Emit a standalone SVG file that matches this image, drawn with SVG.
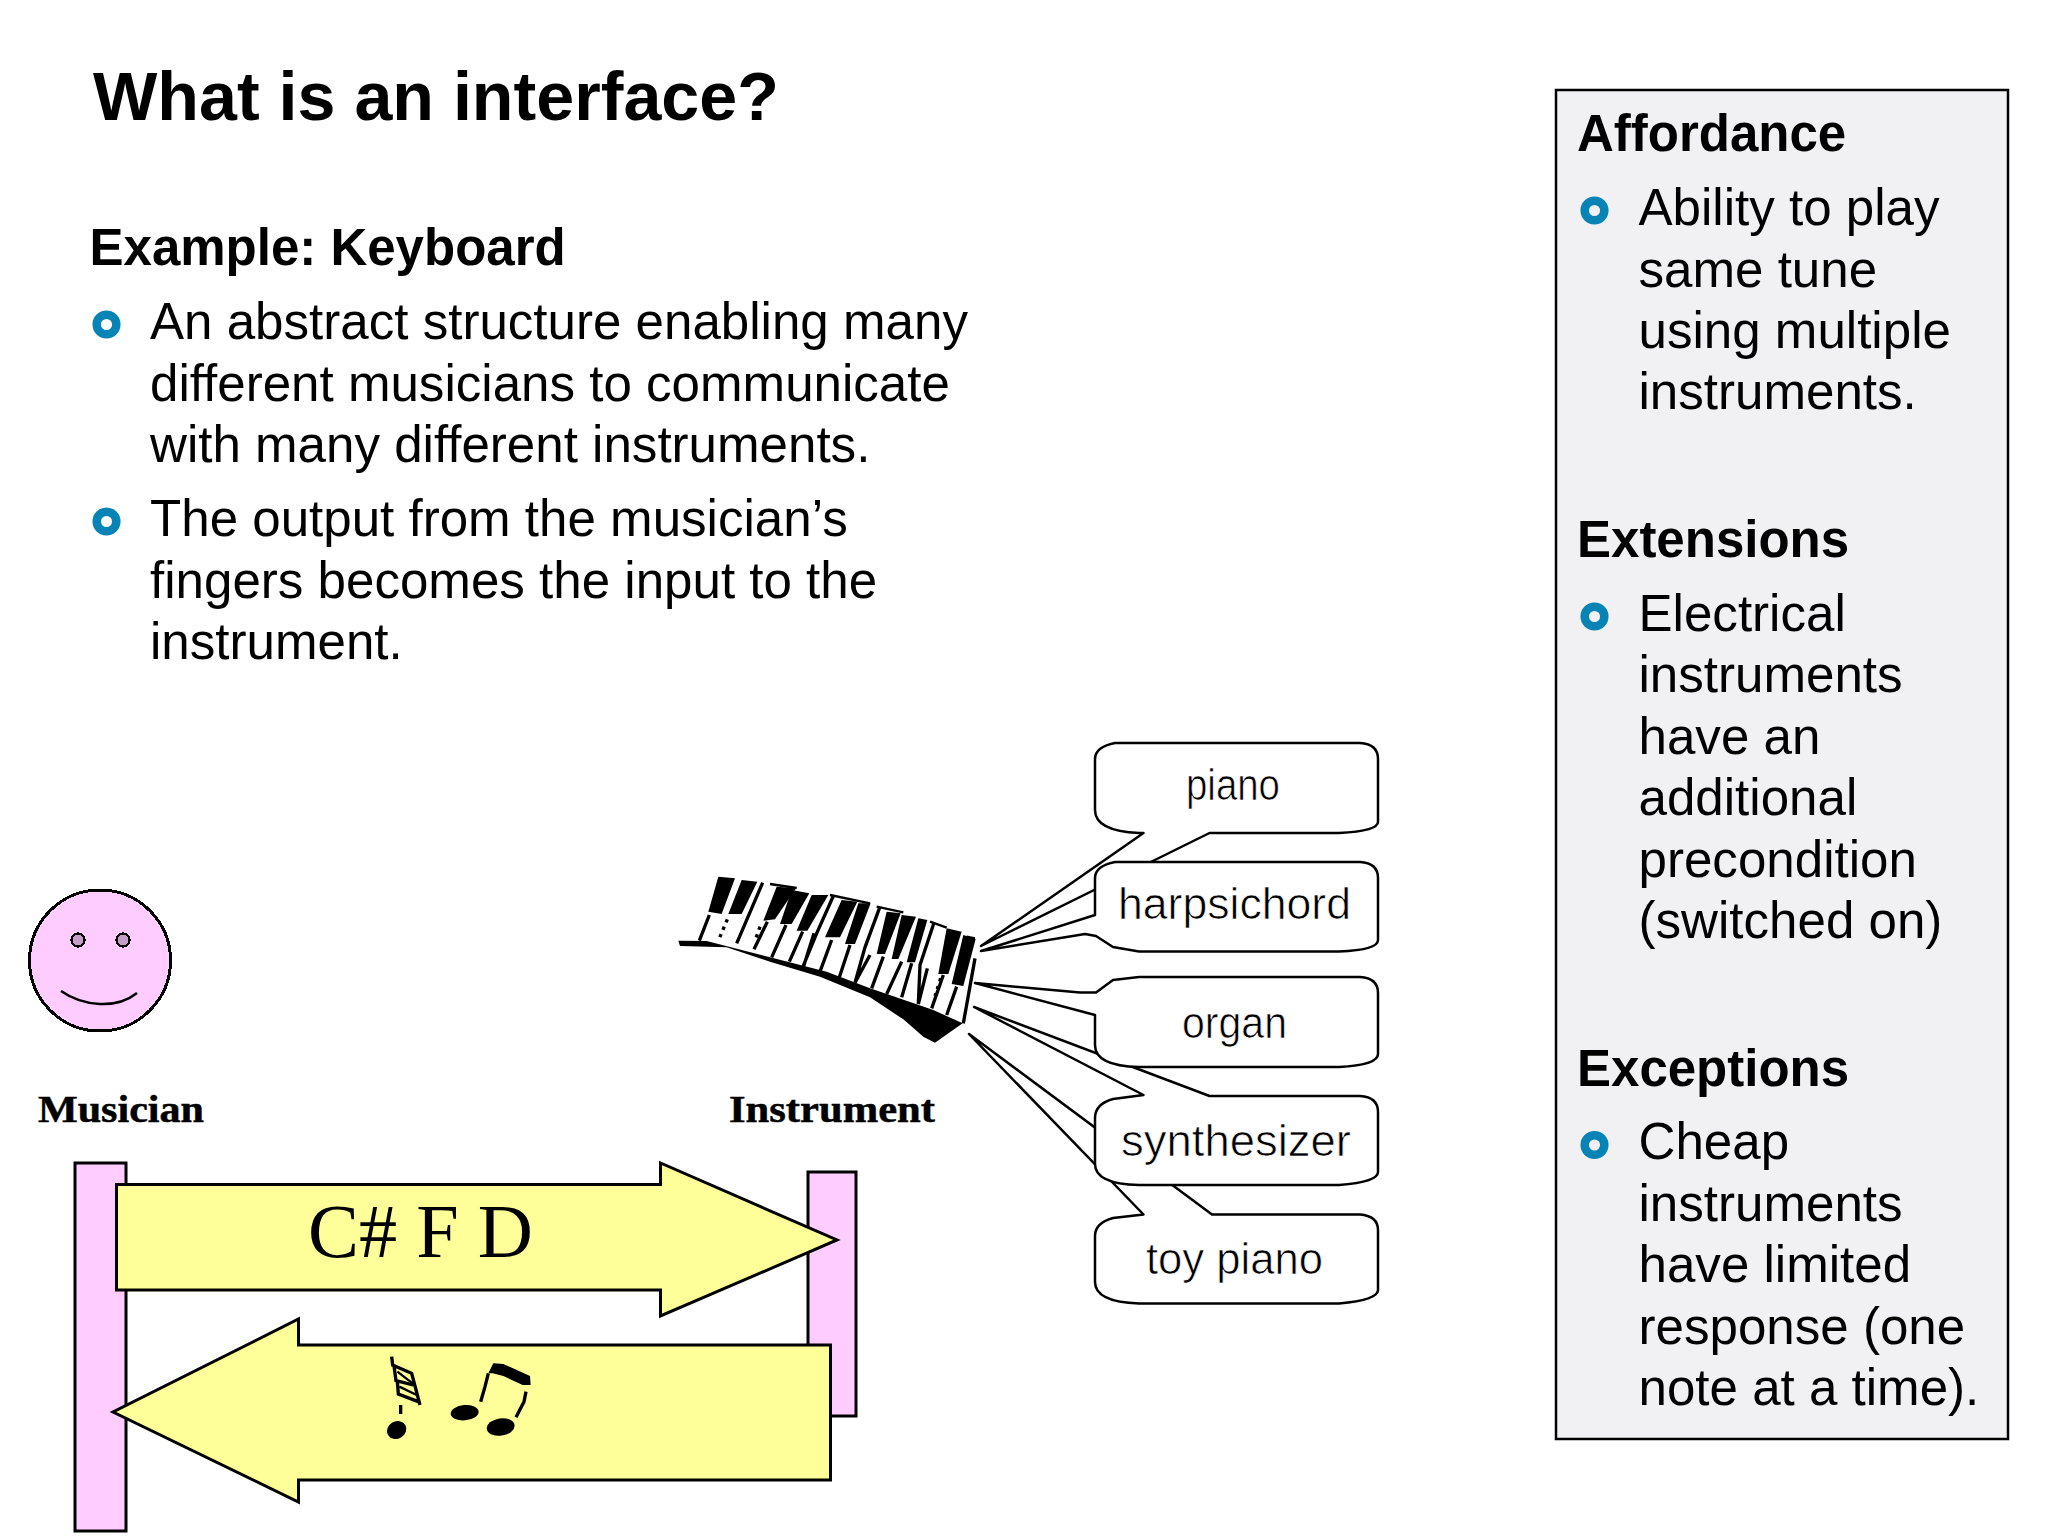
<svg xmlns="http://www.w3.org/2000/svg" xmlns:xlink="http://www.w3.org/1999/xlink" width="2048" height="1536" viewBox="0 0 2048 1536">
<style>
text{font-family:"Liberation Sans",Arial,sans-serif;fill:#000}
.title{font-size:68.200px;font-weight:700}
.head{font-size:51px;font-weight:700}
.body{font-size:51.100px}
.pix{font-family:"Liberation Serif","Times New Roman",serif;font-size:38px;font-weight:700;stroke:#000;stroke-width:.5px}
.call{font-size:44px;stroke:#fff;stroke-width:.7px}
.pink{fill:#ffccff;stroke:#000;stroke-width:3}
.jag{shape-rendering:crispEdges}
.yellow{fill:#ffff99;stroke:#000;stroke-width:3}
.bubble{fill:#fff;stroke:#000;stroke-width:2.500;stroke-linejoin:round}
.ring{fill:none;stroke:#0784b5;stroke-width:8.500}
</style>
<defs><circle id="bullet" r="9.800" class="ring"/></defs>
<rect width="2048" height="1536" fill="#fff"/>
<g id="title"><text class="title" x="93" y="119.500">What is an interface?</text></g>
<g id="example">
<text class="head" x="89.500" y="265">Example: Keyboard</text>
<use xlink:href="#bullet" href="#bullet" x="106.500" y="324.500"/>
<text class="body" x="150" y="339">An abstract structure enabling many</text>
<text class="body" x="150" y="400.500">different musicians to communicate</text>
<text class="body" x="150" y="462">with many different instruments.</text>
<use xlink:href="#bullet" href="#bullet" x="106.500" y="521.500"/>
<text class="body" x="150" y="536">The output from the musician’s</text>
<text class="body" x="150" y="597.500">fingers becomes the input to the</text>
<text class="body" x="150" y="659">instrument.</text>
</g>
<g id="sidebar">
<rect x="1556" y="90" width="452" height="1349" fill="#f1f1f3" stroke="#000" stroke-width="2.500"/>
<text class="head" x="1577" y="151">Affordance</text>
<use xlink:href="#bullet" href="#bullet" x="1594.500" y="210.500"/>
<text class="body" x="1638.500" y="225">Ability to play</text>
<text class="body" x="1638.500" y="286.500">same tune</text>
<text class="body" x="1638.500" y="348">using multiple</text>
<text class="body" x="1638.500" y="409">instruments.</text>
<text class="head" x="1577" y="556.500">Extensions</text>
<use xlink:href="#bullet" href="#bullet" x="1594.500" y="616.500"/>
<text class="body" x="1638.500" y="630.500">Electrical</text>
<text class="body" x="1638.500" y="692">instruments</text>
<text class="body" x="1638.500" y="753.500">have an</text>
<text class="body" x="1638.500" y="815">additional</text>
<text class="body" x="1638.500" y="876.500">precondition</text>
<text class="body" x="1638.500" y="938">(switched on)</text>
<text class="head" x="1577" y="1085.500">Exceptions</text>
<use xlink:href="#bullet" href="#bullet" x="1594.500" y="1145"/>
<text class="body" x="1638.500" y="1159">Cheap</text>
<text class="body" x="1638.500" y="1220.500">instruments</text>
<text class="body" x="1638.500" y="1282">have limited</text>
<text class="body" x="1638.500" y="1343.500">response (one</text>
<text class="body" x="1638.500" y="1405">note at a time).</text>
</g>
<g id="musician">
<ellipse cx="100" cy="960.500" rx="70.500" ry="70.500" class="pink jag" stroke-width="2.500"/>
<circle cx="78" cy="940" r="6.500" fill="#c79cc7" stroke="#000" stroke-width="2.500" class="jag"/>
<circle cx="123" cy="940" r="6.500" fill="#c79cc7" stroke="#000" stroke-width="2.500" class="jag"/>
<path d="M61 991Q78 1003 100 1004T137 993" fill="none" stroke="#000" stroke-width="2.500"/>
<text class="pix" x="38" y="1122" textLength="166" lengthAdjust="spacingAndGlyphs">Musician</text>
</g>
<g id="musician-bar"><rect x="75" y="1163" width="51" height="368" class="pink"/></g>
<g id="instrument-bar"><rect x="808" y="1172" width="48" height="244" class="pink"/></g>
<g id="instrument-label"><text class="pix" x="729" y="1122" textLength="206" lengthAdjust="spacingAndGlyphs">Instrument</text></g>
<g id="keyboard" transform="translate(670 860) scale(.33333)">
<path d="M140 55 300 72 500 112 700 155 915 235 878 490 790 450 600 385 300 290 85 242Z" fill="#fff"/>
<path fill="#000" d="M25 242 110 243 300 292 470 335 600 385 790 450 878 490 795 548 760 530 700 478 600 412 450 350 300 305 170 262 30 258Z"/>
<g fill="#000">
<path d="M145 50 195 55 155 162 115 155Z"/><path d="M215 60 262 65 215 162 175 162Z"/>
<path d="M320 80 378 85 315 178 280 182Z"/><path d="M365 90 418 100 365 192 330 192Z"/>
<path d="M425 105 475 105 412 212 380 212Z"/><path d="M515 120 562 125 510 232 465 232Z"/>
<path d="M565 130 602 130 555 252 525 252Z"/><path d="M650 155 692 160 645 282 620 282Z"/>
<path d="M695 165 738 170 685 297 665 297Z"/><path d="M745 175 772 180 735 307 710 307Z"/>
<path d="M830 205 875 215 835 342 805 342Z"/><path d="M880 225 917 237 880 378 845 372Z"/>
</g>
<g fill="none" stroke="#000" stroke-width="10">
<path d="M300 72 380 84M480 105 600 130M620 140 700 157M780 185 830 203M890 230 915 235" stroke-width="7"/>
<path d="M118 165 88 242M278 68 200 250M292 185 252 268M348 195 305 292M398 215 358 305M432 220 400 322M490 108 440 220 398 322M485 240 450 335M540 255 508 352M630 140 585 262 555 368M600 285 555 368M640 290 605 385M695 305 650 402M725 310 695 412M792 188 750 315 745 432M772 325 745 432M820 345 785 445M860 380 830 465M915 295 880 490"/>
<path d="M172 178 145 242M270 200 255 242M812 355 795 408" stroke-dasharray="10 14"/>
</g>
</g>
<g id="connectors">
<path id="arrow-out" class="yellow" d="M116.500 1184.500H660.500V1163L837 1240 660.500 1316V1290H116.500Z"/>
<path id="arrow-back" class="yellow" d="M830.500 1345H298.500V1319L113 1412 298.500 1502V1480H830.500Z"/>
</g>
<g id="notes-label"><text x="308" y="1257" textLength="225" font-size="76" style="font-family:'Liberation Serif',serif" lengthAdjust="spacingAndGlyphs">C# F D</text></g>
<g id="notes" transform="translate(370 1340) scale(.33333)">
<g fill="#000"><ellipse cx="80" cy="270" rx="30" ry="26" transform="rotate(-30 80 270)"/><ellipse cx="284" cy="218" rx="42" ry="23" transform="rotate(-5 284 218)"/><ellipse cx="392" cy="261" rx="42" ry="26" transform="rotate(-8 392 261)"/>
<path d="M355 100 370 70 400 72 480 108 482 135 458 135 400 108 368 100Z"/></g>
<g fill="none" stroke="#000" stroke-width="10"><path d="M65 50 68 75 125 100 150 195M72 78 78 122 130 135M82 125 85 162 145 185M92 195V222M355 100 345 140 332 185M468 155 462 185 448 212 438 232"/><path d="M82 95 128 130M88 140 140 165" stroke-width="7"/></g>
</g>
<g id="toy-piano"><path class="bubble" d="M1113 1218 1143.500 1214.500 969 1034 1212 1214.500H1360Q1378 1216 1378 1230V1290Q1378 1300 1339 1303.500H1139Q1095 1302 1095 1282V1236Q1095 1223 1113 1218Z"/><text class="call" x="1146" y="1274" textLength="177" lengthAdjust="spacingAndGlyphs">toy piano</text></g>
<g id="synthesizer"><path class="bubble" d="M1113 1099 1143.500 1095 974 1007 1209.500 1096H1360Q1378 1097 1378 1112V1172Q1378 1182 1339 1185H1139Q1095 1184 1095 1164V1118Q1095 1104 1113 1099Z"/><text class="call" x="1121" y="1156" textLength="230" lengthAdjust="spacingAndGlyphs">synthesizer</text></g>
<g id="piano"><path class="bubble" d="M1115 743H1360Q1378 744 1378 759V822Q1378 831 1339 833H1209.500L981 946 1143.500 833H1139Q1095 831 1095 810V759Q1095 747 1115 743Z"/><text class="call" x="1186" y="800" textLength="94" lengthAdjust="spacingAndGlyphs">piano</text></g>
<g id="organ"><path class="bubble" d="M1139 977H1360Q1378 978 1378 993V1054Q1378 1065 1339 1067H1139Q1095 1066 1095 1045V1015L975 983 1080 992.500H1096L1113 980Z"/><text class="call" x="1182" y="1038" textLength="105" lengthAdjust="spacingAndGlyphs">organ</text></g>
<g id="harpsichord"><path class="bubble" d="M1115 862H1360Q1378 863 1378 878V940Q1378 950 1339 951.500H1139L1113 947 1096 936 1085 934 981 951 1095 915V878Q1095 866 1115 862Z"/><text class="call" x="1118" y="919" textLength="233" lengthAdjust="spacingAndGlyphs">harpsichord</text></g>
</svg>
